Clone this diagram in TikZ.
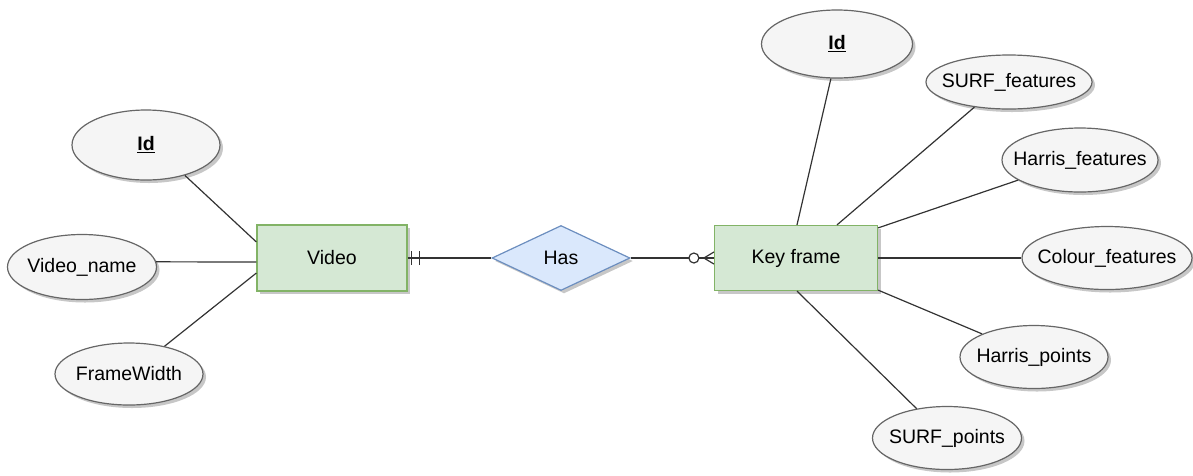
\documentclass[tikz,border=0pt]{standalone}
\usepackage{fontspec}
\setmainfont{Liberation Sans}
\usetikzlibrary{shapes.geometric,shadows}
\definecolor{attrfill}{HTML}{F5F5F5}
\definecolor{attrdraw}{HTML}{666666}
\definecolor{entfill}{HTML}{D5E8D4}
\definecolor{entdraw}{HTML}{82B366}
\definecolor{relfill}{HTML}{DAE8FC}
\definecolor{reldraw}{HTML}{6C8EBF}
\definecolor{linkcol}{HTML}{333333}
\newcommand\zw[1]{\makebox[0pt]{#1}}
\tikzset{
  softshadow/.style={drop shadow={shadow xshift=3pt,shadow yshift=-3pt,fill=black,opacity=0.22}},
  attr/.style={ellipse,draw=attrdraw,fill=attrfill,line width=1.2pt,inner sep=0pt,softshadow},
  entity/.style={rectangle,draw=entdraw,fill=entfill,line width=1.2pt,inner sep=0pt,softshadow},
  relation/.style={diamond,draw=reldraw,fill=relfill,line width=1.2pt,inner sep=0pt,softshadow},
  link/.style={draw=linkcol,line width=1.2pt},
}
\begin{document}
\begin{tikzpicture}[x=1pt,y=-1pt,font=\fontsize{19.5}{23}\selectfont]
\useasboundingbox (0,0) rectangle (1193,475);

% entities and relationship
\node[entity,minimum width=150pt,minimum height=66pt] (vid) at (332,258) {Video};
\node[relation,minimum width=138pt,minimum height=65pt] (has) at (561,258) {Has};
\node[entity,minimum width=163pt,minimum height=65pt] (kf) at (796,258) {Key frame};

% attributes of Video
\node[attr,minimum width=148pt,minimum height=70pt] (vid_id) at (146,145) {\zw{\underline{\textbf{Id}}}};
\node[attr,minimum width=149pt,minimum height=65pt] (vname) at (82,267) {\zw{Video\_name}};
\node[attr,minimum width=148pt,minimum height=62pt] (fwidth) at (129,374) {\zw{FrameWidth}};

% attributes of Key frame
\node[attr,minimum width=151pt,minimum height=68pt] (kf_id) at (837,44) {\zw{\underline{\textbf{Id}}}};
\node[attr,minimum width=166pt,minimum height=54pt] (surff) at (1009,82) {\zw{SURF\_features}};
\node[attr,minimum width=156pt,minimum height=64pt] (harrf) at (1080,160) {\zw{Harris\_features}};
\node[attr,minimum width=170pt,minimum height=63pt] (colf) at (1107,258) {\zw{Colour\_features}};
\node[attr,minimum width=148pt,minimum height=63pt] (harrp) at (1034,357) {\zw{Harris\_points}};
\node[attr,minimum width=149pt,minimum height=63pt] (surfp) at (947,438) {\zw{SURF\_points}};

% attribute links, Video
\draw[link] (vid_id.-38) -- ([yshift=16pt]vid.west);
\draw[link] (vname.4) -- ([yshift=-4pt]vid.west);
\draw[link] (fwidth.38) -- ([yshift=-15pt]vid.west);

% attribute links, Key frame
\draw[link] (kf_id.-100) -- ([xshift=1pt]kf.north);
\draw[link] (surff.-144) -- ([xshift=41pt]kf.north);
\draw[link] (harrf.-162) -- ([yshift=-3pt]kf.north east);
\draw[link] (kf.east) -- (colf.west);
\draw[link] ([yshift=1pt]kf.south east) -- (harrp.156);
\draw[link] ([xshift=1pt]kf.south) -- (surfp.136);

% relationship links with cardinality marks
\draw[link] (vid.east) -- (has.west);
\draw[link] ([xshift=4pt,yshift=-7pt]vid.east) -- ([xshift=4pt,yshift=7pt]vid.east);
\draw[link] ([xshift=12pt,yshift=-7pt]vid.east) -- ([xshift=12pt,yshift=7pt]vid.east);

\draw[link] (has.east) -- (kf.west);
\draw[link,fill=white] ([xshift=-20pt]kf.west) circle (5pt);
\draw[link] ([yshift=6pt]kf.west) -- ([xshift=-10pt]kf.west) -- ([yshift=-6pt]kf.west);
\end{tikzpicture}
\end{document}
